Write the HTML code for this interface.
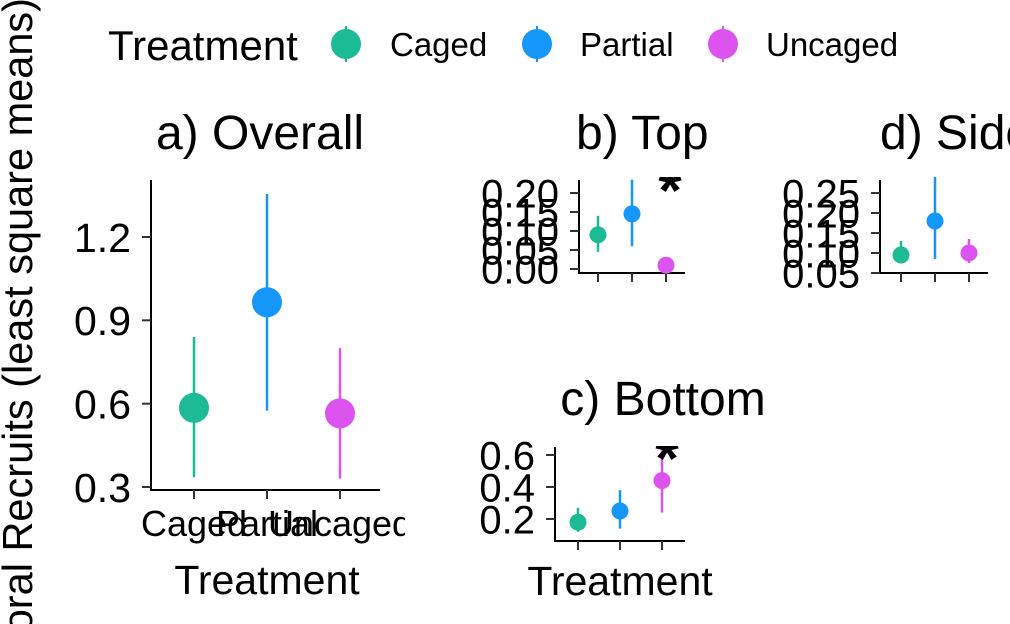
<!DOCTYPE html>
<html><head><meta charset="utf-8"><style>
body{margin:0;background:#fff;overflow:hidden;}
svg{display:block;font-family:"Liberation Sans",Arial,sans-serif;}
</style></head><body>
<svg id="c" width="1010" height="624">
<defs>
<clipPath id="clipB"><rect x="460" y="177" width="247" height="130"/></clipPath>
<clipPath id="clipC"><rect x="460" y="446" width="300" height="178"/></clipPath>
<clipPath id="clipA"><rect x="0" y="100" width="405" height="524"/></clipPath>
<clipPath id="clipB2"><rect x="460" y="90" width="247" height="80"/></clipPath>
<clipPath id="clipAll"><rect x="0" y="0" width="1010" height="624"/></clipPath>
</defs>
<g clip-path="url(#clipAll)">
<text x="32" y="-2" transform="rotate(-90 32 -2)" text-anchor="end" font-size="41.5" fill="#000">Coral Recruits (least square means)</text>
</g>
<g>
<text x="108" y="60" font-size="42">Treatment</text>
<g><line x1="346" y1="26" x2="346" y2="62" stroke="#1dba96" stroke-width="2"/><circle cx="346" cy="44" r="15" fill="#1dba96"/><text x="390" y="56" font-size="33">Caged</text></g>
<g><line x1="537" y1="26" x2="537" y2="62" stroke="#1597fa" stroke-width="2"/><circle cx="537" cy="44" r="15" fill="#1597fa"/><text x="580" y="56" font-size="33">Partial</text></g>
<g><line x1="723" y1="26" x2="723" y2="62" stroke="#dc53f0" stroke-width="2"/><circle cx="723" cy="44" r="15" fill="#dc53f0"/><text x="766" y="56" font-size="33">Uncaged</text></g>
</g>
</svg>
<script>
const categories=["Caged","Partial","Uncaged"];
const colors=["#1dba96","#1597fa","#dc53f0"];
const aMean=[0.585,0.965,0.565], aLo=[0.335,0.575,0.33], aHi=[0.84,1.355,0.80];
const aTicks=[0.3,0.6,0.9,1.2];
const bMean=[0.09,0.145,0.01], bLo=[0.045,0.06,0.0], bHi=[0.14,0.235,0.02];
const bTicks=[0.00,0.05,0.10,0.15,0.20];
const cMean=[0.18,0.25,0.44], cLo=[0.12,0.14,0.24], cHi=[0.27,0.38,0.63];
const cTicks=[0.2,0.4,0.6];
const dMean=[0.095,0.18,0.10], dLo=[0.075,0.085,0.075], dHi=[0.13,0.29,0.135];
const dTicks=[0.05,0.10,0.15,0.20,0.25];
const NS="http://www.w3.org/2000/svg", svg=document.getElementById('c');
function mk(t,a,p){const e=document.createElementNS(NS,t);for(const k in a)e.setAttribute(k,a[k]);(p||svg).appendChild(e);return e;}
function panel(o){
  const g=mk('g',{});
  
  
  const y=v=>o.y0+(v-o.v0)*(o.y1-o.y0)/(o.v1-o.v0);
  const x=i=>o.xs[0]+i*(o.xs[1]-o.xs[0]);
  const t=mk('text',{x:o.tx,y:o.ty,'font-size':48,'text-anchor':o.tanchor},g);t.textContent=o.title;
  if(o.tclip)t.setAttribute('clip-path',o.tclip);
  
  
  mk('line',{x1:o.ax,y1:o.top,x2:o.ax,y2:o.bot+1,stroke:'#000','stroke-width':2},g);
  mk('line',{x1:o.ax-1,y1:o.bot,x2:o.right,y2:o.bot,stroke:'#000','stroke-width':2},g);
  o.ticks.forEach(v=>{const yy=y(v);
    mk('line',{x1:o.ax-9,y1:yy,x2:o.ax,y2:yy,stroke:'#333','stroke-width':2},g);
    const tl=mk('text',{x:o.ax-20,y:yy+o.fs*0.36,'font-size':o.fs,'text-anchor':'end'},g);
    tl.textContent=o.fmt(v);
    
    });
  categories.forEach((c,i)=>{const xx=x(i);
    mk('line',{x1:xx,y1:o.bot,x2:xx,y2:o.bot+9,stroke:'#333','stroke-width':2},g);
    if(o.xlab){const tl=mk('text',{x:xx,y:o.bot+46,'font-size':36,'text-anchor':'middle','clip-path':'url(#clipA)'},g);tl.textContent=c;
      
      }
    const l=mk('line',{x1:xx,y1:y(o.lo[i]),x2:xx,y2:y(o.hi[i]),stroke:colors[i],'stroke-width':2.5},g);
    
    
    const p=mk('circle',{cx:xx,cy:y(o.mean[i]),r:o.r,fill:colors[i]},g);
    
    });
  if(o.xtitle){const tl=mk('text',{x:o.xtitleX,y:o.xtitleY,'font-size':41,'text-anchor':'middle'},g);tl.textContent='Treatment';
    
    }
  if(o.star){const s=mk('text',{x:o.star[0],y:o.star[1],'font-size':60,'font-weight':'bold','text-anchor':'middle','clip-path':o.sclip},g);s.textContent='*';
    
    }
}
panel({name:'panel-a-overall',title:'a) Overall',tx:260,ty:149,tanchor:'middle',ax:151,top:180,bot:490,right:380,xs:[194,267],
  v0:0.3,y0:487,v1:1.2,y1:237,ticks:aTicks,fmt:v=>v.toFixed(1),fs:41,mean:aMean,lo:aLo,hi:aHi,r:15,xlab:true,xtitle:true,xtitleX:267,xtitleY:594});
panel({name:'panel-b-top',title:'b) Top',tx:576,ty:149,tanchor:'start',tclip:'url(#clipB2)',ax:579,top:180,bot:273,right:685,xs:[598,632],
  v0:0,y0:269,v1:0.2,y1:193,ticks:bTicks,fmt:v=>v.toFixed(2),fs:40,mean:bMean,lo:bLo,hi:bHi,r:8.5,star:[670,211],sclip:'url(#clipB)'});
panel({name:'panel-c-bottom',title:'c) Bottom',tx:663,ty:415,tanchor:'middle',ax:555,top:447,bot:541,right:685,xs:[578,620],
  v0:0.2,y0:519,v1:0.6,y1:455,ticks:cTicks,fmt:v=>v.toFixed(1),fs:40,mean:cMean,lo:cLo,hi:cHi,r:8.5,xtitle:true,xtitleX:620,xtitleY:595,star:[667,479],sclip:'url(#clipC)'});
panel({name:'panel-d-sides',title:'d) Sides',tx:880,ty:149,tanchor:'start',ax:880,top:180,bot:273,right:988,xs:[901,935],
  v0:0.05,y0:273,v1:0.25,y1:193,ticks:dTicks,fmt:v=>v.toFixed(2),fs:40,mean:dMean,lo:dLo,hi:dHi,r:8.5});
</script>
</body></html>
